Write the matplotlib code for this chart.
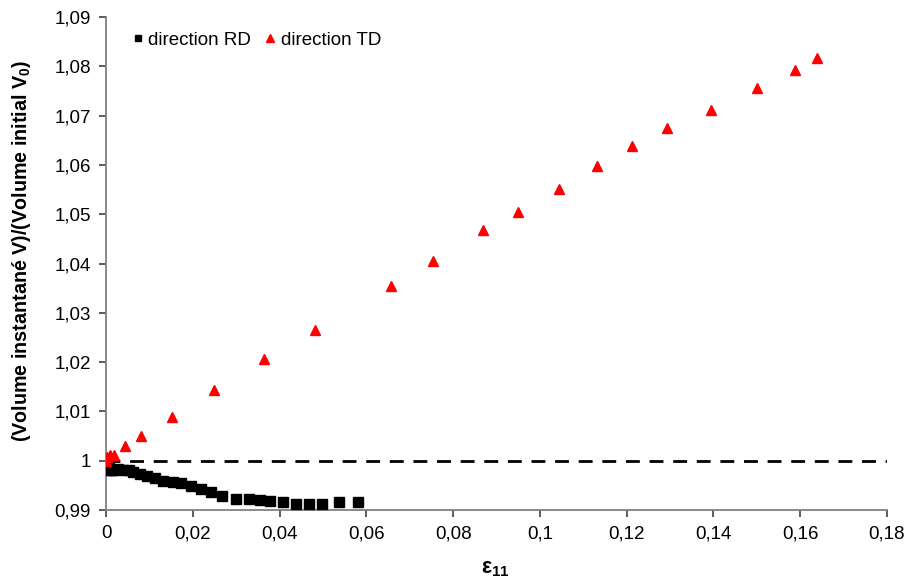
import matplotlib
matplotlib.use("Agg")
import matplotlib.pyplot as plt

plt.rcParams['font.family'] = ['Liberation Sans', 'DejaVu Sans']
plt.rcParams['mathtext.fontset'] = 'custom'
plt.rcParams['mathtext.rm'] = 'Liberation Sans'
plt.rcParams['mathtext.bf'] = 'Liberation Sans:bold'
plt.rcParams['mathtext.it'] = 'Liberation Sans:italic'

rd_x = [0.0, 0.0004, 0.0007, 0.0010, 0.0013, 0.0017, 0.0028, 0.0040, 0.0054, 0.0063,
        0.0078, 0.0094, 0.0113, 0.0132, 0.0154, 0.0173, 0.0197, 0.0219, 0.0242,
        0.0268, 0.0299, 0.0329, 0.0356, 0.0379, 0.0407, 0.0438, 0.0468, 0.0498,
        0.0536, 0.0580]
rd_y = [1.0, 0.9992, 0.9985, 0.9982, 0.9981, 0.99811, 0.99825, 0.99811, 0.99811, 0.99777,
        0.9973, 0.9969, 0.99643, 0.99594, 0.9956, 0.99554, 0.99487, 0.9942, 0.99365,
        0.9929, 0.99229, 0.99217, 0.9920, 0.99183, 0.99162, 0.9912, 0.9912, 0.9912,
        0.99156, 0.9917]

td_x = [0.0, 0.0002, 0.0009, 0.0018, 0.0044, 0.0081, 0.0152, 0.0250, 0.0365, 0.0482,
        0.0657, 0.0754, 0.0869, 0.0949, 0.1044, 0.1131, 0.1212, 0.1294, 0.1394,
        0.1500, 0.1589, 0.1638]
td_y = [1.0, 1.0008, 1.0011, 1.0012, 1.0029, 1.00497, 1.00882, 1.01430, 1.02053, 1.02661,
        1.03534, 1.04047, 1.04675, 1.05047, 1.05513, 1.0597, 1.0638, 1.0674, 1.0712,
        1.0755, 1.0793, 1.0816]

ref_x = [0.0, 0.18]
ref_y = [1.0, 1.0]

x_ticks = [0, 0.02, 0.04, 0.06, 0.08, 0.10, 0.12, 0.14, 0.16, 0.18]
x_labels = ['0', '0,02', '0,04', '0,06', '0,08', '0,1', '0,12', '0,14', '0,16', '0,18']
y_ticks = [0.99, 1.00, 1.01, 1.02, 1.03, 1.04, 1.05, 1.06, 1.07, 1.08, 1.09]
y_labels = ['0,99', '1', '1,01', '1,02', '1,03', '1,04', '1,05', '1,06', '1,07', '1,08', '1,09']

fig = plt.figure(figsize=(9.1, 5.88), dpi=100)
ax = fig.add_axes([106/910, 1-510/588, (887-106)/910, (510-17)/588])

ax.plot(ref_x, ref_y, color='black', linestyle=(0, (5, 3.5)), linewidth=2, zorder=1)
ax.plot(rd_x, rd_y, linestyle='none', marker='s', markersize=6.5, color='black',
        label='direction RD', zorder=3)
ax.plot(td_x, td_y, linestyle='none', marker='^', markersize=7, color='#ff0000',
        label='direction TD', zorder=4)

ax.set_xlim(0, 0.18)
ax.set_ylim(0.99, 1.09)
ax.set_xticks(x_ticks)
ax.set_xticklabels(x_labels)
ax.set_yticks(y_ticks)
ax.set_yticklabels(y_labels)

for s in ['top', 'right']:
    ax.spines[s].set_visible(False)
for s in ['left', 'bottom']:
    ax.spines[s].set_color('#808080')
    ax.spines[s].set_linewidth(1.3)
ax.tick_params(axis='both', direction='out', length=5, width=1.2, color='#404040',
               labelsize=13.5, pad=6)

ax.set_xlabel(r'ε$_\mathbf{11}$', fontsize=15.5, fontweight='bold')
ax.xaxis.set_label_coords(0.498, -0.118)
ax.xaxis.label.set_verticalalignment('center')
ax.set_ylabel(r'(Volume instantané V)/(Volume initial V$_\mathbf{0}$)', fontsize=14.2,
              fontweight='bold')
ax.yaxis.set_label_coords(-0.108, 0.525)
ax.yaxis.label.set_verticalalignment('center')

leg = ax.legend(loc='upper left', bbox_to_anchor=(0.008, 1.005), ncol=2, frameon=False,
                fontsize=13.5, handletextpad=0.1, columnspacing=0.6, handlelength=0.9,
                markerscale=0.75)

fig.savefig('out.png', dpi=100)
